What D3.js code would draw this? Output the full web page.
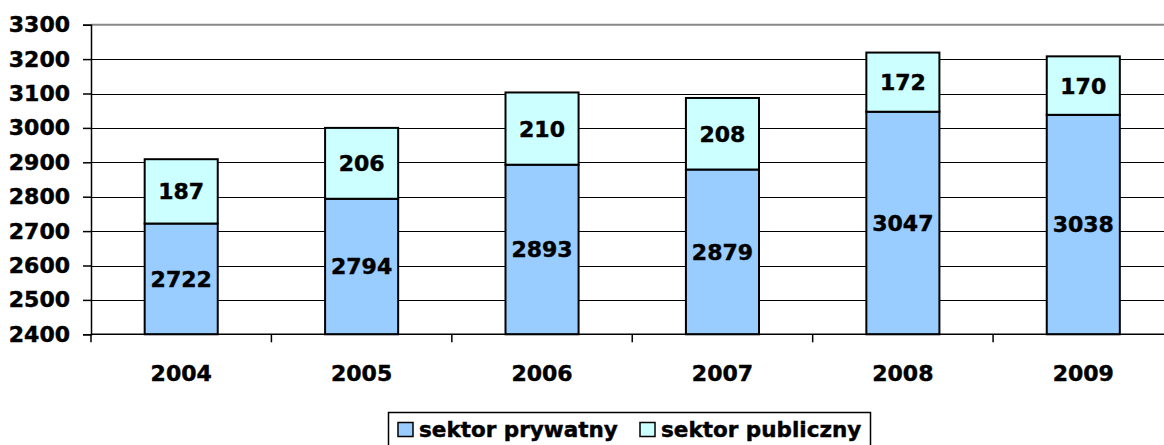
<!DOCTYPE html>
<html>
<head>
<meta charset="utf-8">
<script src="https://cdn.jsdelivr.net/npm/d3@7"></script>
<style>
  body { margin: 0; background: #fff; }
  svg text { font-family: "DejaVu Sans", Verdana, sans-serif; font-weight: bold; fill: #000; stroke: #000; stroke-width: 0.45px; }
</style>
</head>
<body>
<div id="chart"></div>
<script>
var years = ["2004", "2005", "2006", "2007", "2008", "2009"];
var privateValues = [2722, 2794, 2893, 2879, 3047, 3038];
var publicValues = [187, 206, 210, 208, 172, 170];
var yTicks = [2400, 2500, 2600, 2700, 2800, 2900, 3000, 3100, 3200, 3300];
var seriesNames = ["sektor prywatny", "sektor publiczny"];
var seriesColors = ["#99CCFF", "#CCFFFF"];

var width = 1164, height = 445;

var svg = d3.select("#chart").append("svg")
  .attr("width", width)
  .attr("height", height);

var xScale = d3.scaleBand()
  .domain(years)
  .range([91, 1173.5])
  .paddingInner(0.595)
  .paddingOuter(0.2975);

var yScale = d3.scaleLinear()
  .domain([2400, 3300])
  .range([334.3, 24.7]);

// gridlines
svg.append("g")
  .selectAll("line")
  .data(yTicks.slice(1, -1))
  .enter().append("line")
  .attr("x1", 91).attr("x2", width)
  .attr("y1", d => Math.round(yScale(d)) + 0.5)
  .attr("y2", d => Math.round(yScale(d)) + 0.5)
  .style("stroke", "#000")
  .style("stroke-width", 1);

// plot area top border
svg.append("line")
  .attr("x1", 91).attr("x2", width)
  .attr("y1", yScale(3300)).attr("y2", yScale(3300))
  .style("stroke", "#888")
  .style("stroke-width", 2);

// stacked bars
var stacked = years.map(function(y, i) {
  return { year: y, priv: privateValues[i], pub: publicValues[i] };
});

var bars = svg.append("g");
bars.selectAll(".bar-priv")
  .data(stacked)
  .enter().append("rect")
  .attr("class", "bar-priv")
  .attr("x", d => xScale(d.year))
  .attr("width", xScale.bandwidth())
  .attr("y", d => yScale(d.priv))
  .attr("height", d => yScale(2400) - yScale(d.priv))
  .attr("fill", seriesColors[0])
  .attr("stroke", "#000")
  .attr("stroke-width", 2);

bars.selectAll(".bar-pub")
  .data(stacked)
  .enter().append("rect")
  .attr("class", "bar-pub")
  .attr("x", d => xScale(d.year))
  .attr("width", xScale.bandwidth())
  .attr("y", d => yScale(d.priv + d.pub))
  .attr("height", d => yScale(d.priv) - yScale(d.priv + d.pub))
  .attr("fill", seriesColors[1])
  .attr("stroke", "#000")
  .attr("stroke-width", 2);

// value labels
bars.selectAll(".lbl-priv")
  .data(stacked)
  .enter().append("text")
  .attr("x", d => xScale(d.year) + xScale.bandwidth() / 2)
  .attr("y", d => yScale((2400 + d.priv) / 2))
  .attr("dy", "0.36em")
  .attr("text-anchor", "middle")
  .style("font-size", "22px")
  .text(d => d.priv);

bars.selectAll(".lbl-pub")
  .data(stacked)
  .enter().append("text")
  .attr("x", d => xScale(d.year) + xScale.bandwidth() / 2)
  .attr("y", d => yScale(d.priv + d.pub / 2))
  .attr("dy", "0.36em")
  .attr("text-anchor", "middle")
  .style("font-size", "22px")
  .text(d => d.pub);

// y axis
var yAxis = svg.append("g")
  .attr("transform", "translate(91,0)")
  .call(d3.axisLeft(yScale).tickValues(yTicks).tickSize(8).tickPadding(13).tickFormat(d3.format("d")));
yAxis.selectAll("path, line").style("stroke", "#000").style("stroke-width", 1.5);
yAxis.selectAll("text").style("font-size", "22px").style("font-family", "DejaVu Sans, Verdana, sans-serif");

// x axis
var xAxisG = svg.append("g");
xAxisG.append("line")
  .attr("x1", 91).attr("x2", width)
  .attr("y1", yScale(2400)).attr("y2", yScale(2400))
  .style("stroke", "#000").style("stroke-width", 1.5);
xAxisG.selectAll(".xtick")
  .data(years.concat(["end"]))
  .enter().append("line")
  .attr("x1", (d, i) => 91 + i * xScale.step())
  .attr("x2", (d, i) => 91 + i * xScale.step())
  .attr("y1", yScale(2400))
  .attr("y2", yScale(2400) + 8)
  .style("stroke", "#000").style("stroke-width", 1.5);
xAxisG.selectAll(".xlbl")
  .data(years)
  .enter().append("text")
  .attr("x", d => xScale(d) + xScale.bandwidth() / 2)
  .attr("y", 373)
  .attr("dy", "0.36em")
  .attr("text-anchor", "middle")
  .style("font-size", "22px")
  .text(d => d);

// legend
var legend = svg.append("g");
legend.append("rect")
  .attr("x", 388.5).attr("y", 412.5)
  .attr("width", 482).attr("height", 40)
  .attr("fill", "#fff")
  .attr("stroke", "#000")
  .attr("stroke-width", 1.5);

var legendX = [398, 640];
seriesNames.forEach(function(name, i) {
  legend.append("rect")
    .attr("x", legendX[i]).attr("y", 422.5)
    .attr("width", 15).attr("height", 14)
    .attr("fill", seriesColors[i])
    .attr("stroke", "#000")
    .attr("stroke-width", 1.5);
  legend.append("text")
    .attr("x", legendX[i] + 21)
    .attr("y", 437)
    .style("font-size", "21.5px")
    .text(name);
});
</script>
</body>
</html>
